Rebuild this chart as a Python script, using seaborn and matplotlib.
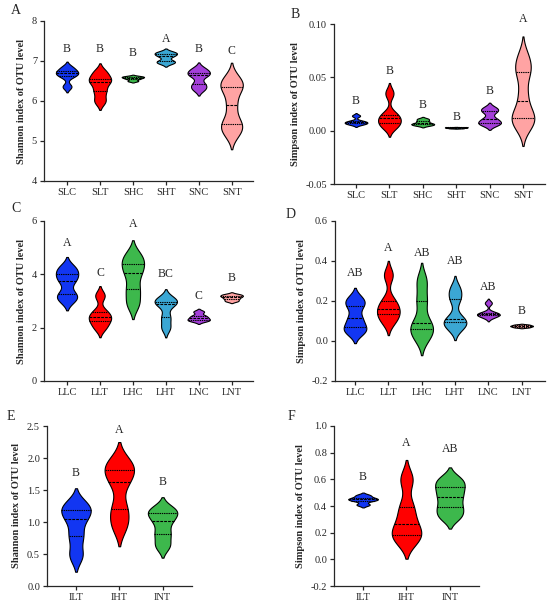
import numpy as np
import pandas as pd
import matplotlib
matplotlib.use("Agg")
import matplotlib.pyplot as plt
import seaborn as sns

# group names
groups_s = ["SLC", "SLT", "SHC", "SHT", "SNC", "SNT"]
groups_l = ["LLC", "LLT", "LHC", "LHT", "LNC", "LNT"]
groups_i = ["ILT", "IHT", "INT"]

# sample values (estimated)
shannon_s = {
    "SLC": [6.36, 6.62, 6.69, 6.74, 6.84],
    "SLT": [6.0, 6.25, 6.47, 6.55, 6.72],
    "SHC": [6.5, 6.55, 6.58, 6.6, 6.62],
    "SHT": [6.95, 7.0, 7.12, 7.18, 7.22],
    "SNC": [6.3, 6.42, 6.64, 6.7, 6.8],
    "SNT": [5.2, 5.35, 5.5, 5.91, 6.3, 6.4, 6.55],
}
simpson_s = {
    "SLC": [0.006, 0.007, 0.008, 0.009, 0.014],
    "SLT": [0.004, 0.007, 0.012, 0.015, 0.035],
    "SHC": [0.005, 0.006, 0.007, 0.009, 0.011],
    "SHT": [0.0022, 0.0025, 0.0028, 0.003, 0.0032],
    "SNC": [0.006, 0.0075, 0.011, 0.018, 0.021],
    "SNT": [0.004, 0.01, 0.012, 0.02, 0.035, 0.053, 0.06, 0.07],
}
shannon_l = {
    "LLC": [3.05, 3.26, 3.76, 4.01, 4.25],
    "LLT": [2.0, 2.26, 2.4, 2.6, 3.2],
    "LHC": [2.9, 3.44, 4.04, 4.39, 4.7],
    "LHT": [2.0, 2.39, 2.88, 2.98, 3.08],
    "LNC": [2.25, 2.3, 2.37, 2.45, 2.6],
    "LNT": [3.0, 3.08, 3.15, 3.2, 3.25],
}
simpson_l = {
    "LLC": [0.045, 0.068, 0.113, 0.177, 0.21],
    "LLT": [0.1, 0.135, 0.162, 0.2, 0.33],
    "LHC": [0.02, 0.06, 0.092, 0.2, 0.3],
    "LHT": [0.07, 0.093, 0.108, 0.21, 0.26],
    "LNC": [0.12, 0.13, 0.135, 0.14, 0.19],
    "LNT": [0.068, 0.072, 0.075, 0.078, 0.082],
}
shannon_i = {
    "ILT": [0.48, 0.78, 1.044, 1.185, 1.27],
    "IHT": [0.95, 1.21, 1.63, 1.82, 1.92],
    "INT": [0.63, 0.82, 1.017, 1.14, 1.2],
}
simpson_i = {
    "ILT": [0.41, 0.44, 0.45, 0.46, 0.48],
    "IHT": [0.15, 0.186, 0.268, 0.39, 0.6],
    "INT": [0.32, 0.389, 0.469, 0.539, 0.6],
}

# significance letters and their heights
letters_a = ["B", "B", "B", "A", "B", "C"]
letters_a_y = [7.29, 7.29, 7.2, 7.56, 7.29, 7.26]
letters_b = ["B", "B", "B", "B", "B", "A"]
letters_b_y = [0.028, 0.056, 0.024, 0.013, 0.037, 0.105]
letters_c = ["A", "C", "A", "BC", "C", "B"]
letters_c_y = [5.19, 4.04, 5.875, 4.01, 3.19, 3.875]
letters_d = ["AB", "A", "AB", "AB", "AB", "B"]
letters_d_y = [0.338, 0.467, 0.442, 0.40, 0.268, 0.15]
letters_e = ["B", "A", "B"]
letters_e_y = [1.77, 2.43, 1.63]
letters_f = ["B", "A", "AB"]
letters_f_y = [0.614, 0.875, 0.827]

colors6 = ["#1236F2", "#FF0000", "#3DB84C", "#3BA7D4", "#A43FD9", "#FFA3A3"]
colors3 = ["#1236F2", "#FF0000", "#3DB84C"]

sns.set_style("ticks")
plt.rcParams["font.family"] = ["Liberation Serif", "DejaVu Serif"]
plt.rcParams["axes.unicode_minus"] = False

W, H = 550, 610
fig = plt.figure(figsize=(W / 100, H / 100), dpi=100)


def make_ax(x0, x1, ytop, ybot):
    return fig.add_axes([x0 / W, (H - ybot) / H, (x1 - x0) / W, (ybot - ytop) / H])


def to_long(d, order):
    rows = []
    for g in order:
        for v in d[g]:
            rows.append((g, v))
    return pd.DataFrame(rows, columns=["group", "value"])


def panel(ax, d, order, colors, ylim, yticks, fmt, ylabel, letters, letters_y, xlim):
    df = to_long(d, order)
    sns.violinplot(data=df, x="group", y="value", hue="group", order=order,
                   hue_order=order, palette=colors, inner="quart",
                   density_norm="width", width=0.68, linewidth=0.8,
                   bw_adjust=0.55, cut=2,
                   linecolor="black", saturation=1, legend=False, ax=ax)
    for i, (t, y) in enumerate(zip(letters, letters_y)):
        ax.text(i, y, t, ha="center", va="center", fontsize=8.5, clip_on=False)
    ax.set_ylim(*ylim)
    ax.set_xlim(*xlim)
    ax.set_yticks(yticks)
    ax.set_yticklabels([fmt % v for v in yticks], fontsize=7.5)
    ax.set_xticks(range(len(order)))
    ax.set_xticklabels(order, fontsize=7.5)
    ax.set_xlabel("")
    ax.set_ylabel(ylabel, fontsize=7.5, fontweight="bold")
    sns.despine(ax=ax)
    for s in ["left", "bottom"]:
        ax.spines[s].set_linewidth(0.9)
    ax.tick_params(width=0.9, length=3, pad=2)


shan = "Shannon index of OTU level"
simp = "Simpson index of OTU level"

ax_a = make_ax(44, 253, 21, 181)
panel(ax_a, shannon_s, groups_s, colors6, (4, 8), [4, 5, 6, 7, 8], "%d", shan,
      letters_a, letters_a_y, (-0.7, 5.65))
ax_b = make_ax(334, 545, 24, 184)
panel(ax_b, simpson_s, groups_s, colors6, (-0.05, 0.10), [-0.05, 0.0, 0.05, 0.10], "%.2f", simp,
      letters_b, letters_b_y, (-0.66, 5.66))
ax_c = make_ax(44, 253, 221, 381)
panel(ax_c, shannon_l, groups_l, colors6, (0, 6), [0, 2, 4, 6], "%d", shan,
      letters_c, letters_c_y, (-0.7, 5.65))
ax_d = make_ax(335, 545, 221, 381)
panel(ax_d, simpson_l, groups_l, colors6, (-0.2, 0.6), [-0.2, 0.0, 0.2, 0.4, 0.6], "%.1f", simp,
      letters_d, letters_d_y, (-0.6, 5.7))
ax_e = make_ax(47, 192, 426, 586)
panel(ax_e, shannon_i, groups_i, colors3, (0, 2.5), [0.0, 0.5, 1.0, 1.5, 2.0, 2.5], "%.1f", shan,
      letters_e, letters_e_y, (-0.67, 2.68))
ax_f = make_ax(334, 479, 426, 586)
panel(ax_f, simpson_i, groups_i, colors3, (-0.2, 1.0), [-0.2, 0.0, 0.2, 0.4, 0.6, 0.8, 1.0], "%.1f", simp,
      letters_f, letters_f_y, (-0.67, 2.67))

for lab, x, y in [("A", 15.5, 10.5), ("B", 295.5, 14), ("C", 15.5, 209),
                  ("D", 290.5, 214), ("E", 11, 417), ("F", 291, 417)]:
    fig.text(x / W, 1 - y / H, lab, ha="center", va="center", fontsize=10)

fig.savefig("out.png", dpi=100)
